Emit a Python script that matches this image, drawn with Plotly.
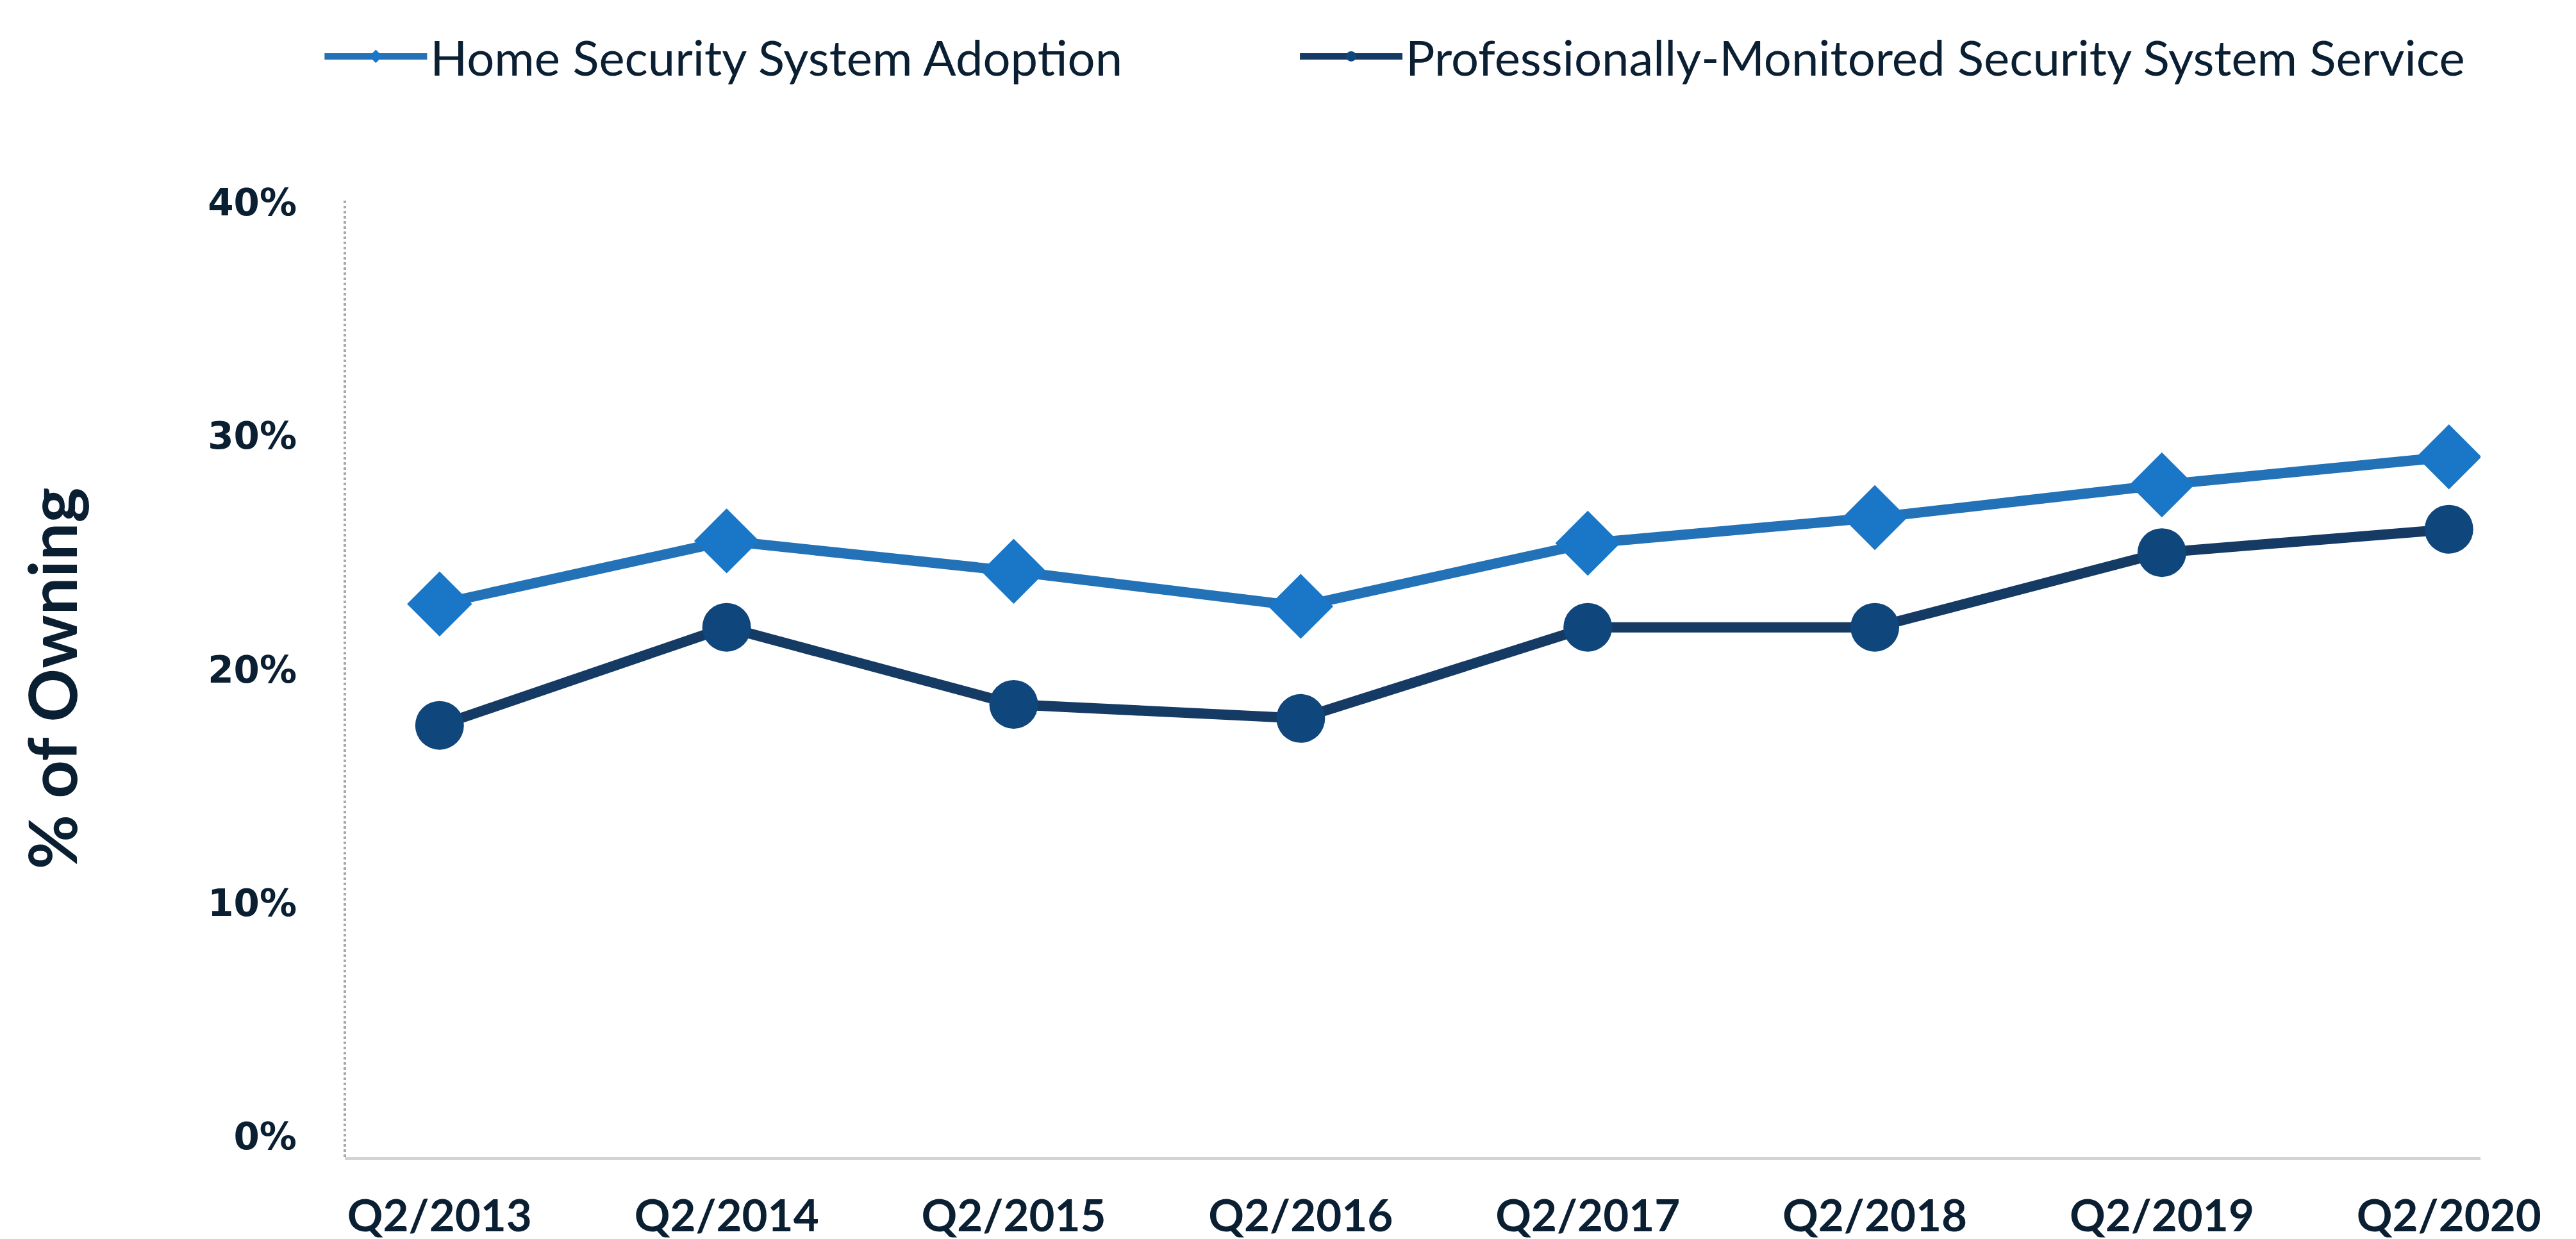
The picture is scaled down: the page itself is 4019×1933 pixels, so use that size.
import plotly.graph_objects as go

quarters = ["Q2/2013", "Q2/2014", "Q2/2015", "Q2/2016", "Q2/2017", "Q2/2018", "Q2/2019", "Q2/2020"]
home_security_adoption = [22.8, 25.5, 24.2, 22.7, 25.4, 26.5, 27.9, 29.1]
pro_monitored_service = [17.6, 21.8, 18.5, 17.9, 21.8, 21.8, 25.0, 26.0]
y_tick_values = [0, 10, 20, 30, 40]
y_tick_labels = ["0%", "10%", "20%", "30%", "40%"]

TEXT = "#0b1f33"
BLUE = "#1a76c6"
BLUE_LINE = "#2372b8"
DARK = "#0f467c"
DARK_LINE = "#153b64"

fig = go.Figure()
fig.add_trace(go.Scatter(
    x=quarters, y=home_security_adoption, name="Home Security System Adoption",
    mode="lines+markers", legend="legend",
    line=dict(color=BLUE_LINE, width=16),
    marker=dict(symbol="diamond", size=78, color=BLUE),
))
fig.add_trace(go.Scatter(
    x=quarters, y=pro_monitored_service, name="Professionally-Monitored Security System Service",
    mode="lines+markers", legend="legend2",
    line=dict(color=DARK_LINE, width=16),
    marker=dict(symbol="circle", size=76, color=DARK),
))

legend_common = dict(
    orientation="h", xanchor="left", y=1.15, yanchor="middle",
    font=dict(size=76, color=TEXT, family="Lato, sans-serif"),
    itemwidth=160, bgcolor="rgba(0,0,0,0)",
)

fig.update_layout(
    width=4019, height=1933,
    paper_bgcolor="white", plot_bgcolor="white",
    margin=dict(l=530, r=157, t=304, b=136, autoexpand=False),
    font=dict(family="Lato, sans-serif", color=TEXT),
    showlegend=True,
    legend=dict(x=-0.011, **legend_common),
    legend2=dict(x=0.4457, **legend_common),
    xaxis=dict(
        type="category", categoryorder="array", categoryarray=quarters,
        range=[-0.33, 7.11],
        showgrid=False, zeroline=False,
        showline=True, linecolor="#d3d3d3", linewidth=5,
        ticks="", ticklabelstandoff=28,
        tickfont=dict(size=69, family="Lato, sans-serif", weight="bold", color=TEXT),
    ),
    yaxis=dict(
        range=[-0.88, 40.1],
        tickvals=y_tick_values, ticktext=y_tick_labels,
        showgrid=False, zeroline=False, showline=False,
        ticks="", ticklabelstandoff=74,
        tickfont=dict(size=58, family="DejaVu Sans, sans-serif", weight="bold", color=TEXT),
        title=dict(text="% of Owning", standoff=168,
                   font=dict(size=104, family="Lato, sans-serif", weight="bold", color=TEXT)),
    ),
    shapes=[dict(type="line", xref="paper", yref="paper", x0=0, x1=0, y0=0, y1=1,
                 line=dict(color="#a9a9a9", width=4, dash="dot"), layer="below")],
)

fig.write_html("out.html")
